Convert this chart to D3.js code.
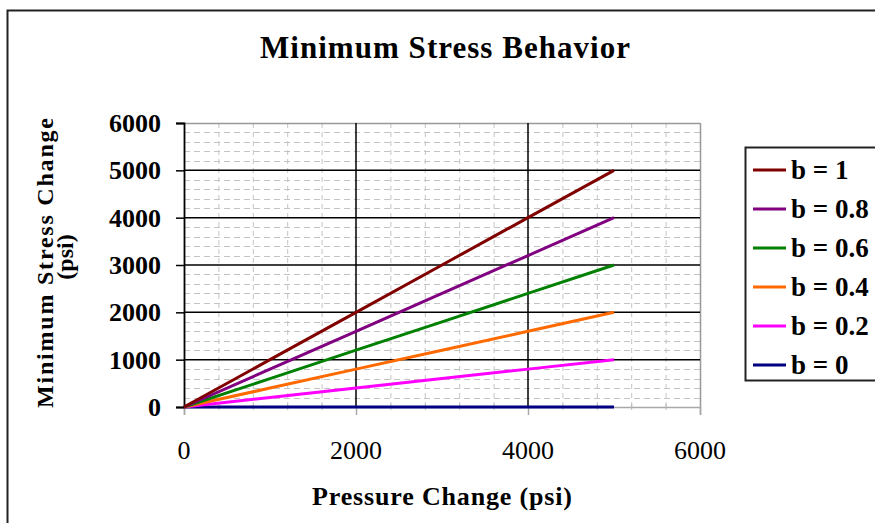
<!DOCTYPE html>
<html>
<head>
<meta charset="utf-8">
<script src="https://cdn.jsdelivr.net/npm/d3@7"></script>
<style>
  html, body { margin: 0; padding: 0; background: #fff; }
  svg { display: block; }
  text { font-family: "Liberation Serif", "Times New Roman", serif; fill: #000; }
</style>
</head>
<body>
<svg id="chart" width="875" height="523"></svg>
<script>
// Pressure change (psi) at each sample
const pressure = [0, 1000, 2000, 3000, 4000, 5000];

// Minimum stress change (psi) for each coefficient b
const seriesNames = ["b = 1", "b = 0.8", "b = 0.6", "b = 0.4", "b = 0.2", "b = 0"];
const stressB1  = [0, 1000, 2000, 3000, 4000, 5000];
const stressB08 = [0, 800, 1600, 2400, 3200, 4000];
const stressB06 = [0, 600, 1200, 1800, 2400, 3000];
const stressB04 = [0, 400, 800, 1200, 1600, 2000];
const stressB02 = [0, 200, 400, 600, 800, 1000];
const stressB0  = [0, 0, 0, 0, 0, 0];
const seriesColors = ["#800000", "#800080", "#008000", "#ff6a00", "#ff00ff", "#000080"];

const xTicks = [0, 2000, 4000, 6000];
const yTicks = [0, 1000, 2000, 3000, 4000, 5000, 6000];

const series = [stressB1, stressB08, stressB06, stressB04, stressB02, stressB0].map((vals, i) => ({
  name: seriesNames[i],
  color: seriesColors[i],
  points: pressure.map((p, j) => ({ x: p, y: vals[j] }))
}));

const svg = d3.select("#chart");

// Outer chart frame (runs off the right and bottom edges)
svg.append("rect")
  .attr("x", 7.5).attr("y", 10.5)
  .attr("width", 900).attr("height", 600)
  .attr("fill", "none").attr("stroke", "#222").attr("stroke-width", 2);

const plot = { left: 184, right: 700, top: 123, bottom: 407 };

const x = d3.scaleLinear().domain([0, 6000]).range([plot.left, plot.right]);
const y = d3.scaleLinear().domain([0, 6000]).range([plot.bottom, plot.top]);

// Minor grid (dashed grey)
const g = svg.append("g");
const minorX = d3.range(400, 6000, 400).filter(v => v % 2000 !== 0);
const minorY = d3.range(200, 6000, 200).filter(v => v % 1000 !== 0);
g.selectAll(".mx").data(minorX).join("line")
  .attr("x1", d => x(d) + 0.5).attr("x2", d => x(d) + 0.5)
  .attr("y1", plot.top).attr("y2", plot.bottom)
  .attr("stroke", "#c4c4c4").attr("stroke-width", 1).attr("stroke-dasharray", "5,4");
g.selectAll(".my").data(minorY).join("line")
  .attr("x1", plot.left).attr("x2", plot.right)
  .attr("y1", d => Math.round(y(d)) + 0.5).attr("y2", d => Math.round(y(d)) + 0.5)
  .attr("stroke", "#c4c4c4").attr("stroke-width", 1).attr("stroke-dasharray", "6,4");

// Plot border: top and right in grey
g.append("line").attr("x1", plot.left).attr("x2", plot.right)
  .attr("y1", plot.top + 0.5).attr("y2", plot.top + 0.5)
  .attr("stroke", "#999").attr("stroke-width", 1.5);
g.append("line").attr("x1", plot.right + 0.5).attr("x2", plot.right + 0.5)
  .attr("y1", plot.top).attr("y2", plot.bottom)
  .attr("stroke", "#999").attr("stroke-width", 1.5);

// Major grid (solid black)
g.selectAll(".Mx").data(xTicks.filter(v => v > 0 && v < 6000)).join("line")
  .attr("x1", d => x(d)).attr("x2", d => x(d))
  .attr("y1", plot.top).attr("y2", plot.bottom)
  .attr("stroke", "#000").attr("stroke-width", 1.5);
g.selectAll(".My").data(yTicks.filter(v => v > 0 && v < 6000)).join("line")
  .attr("x1", plot.left).attr("x2", plot.right)
  .attr("y1", d => y(d)).attr("y2", d => y(d))
  .attr("stroke", "#000").attr("stroke-width", 1.5);

// X axis (grey) with ticks below
const xAxis = svg.append("g").attr("transform", `translate(0,${plot.bottom})`)
  .call(d3.axisBottom(x).tickValues(xTicks).tickSize(8).tickFormat(""));
xAxis.select(".domain").attr("stroke", "#a8a8a8").attr("stroke-width", 1.5);
xAxis.selectAll(".tick line").attr("stroke", "#a8a8a8").attr("stroke-width", 1.5);
svg.append("g").selectAll("line").data(minorX).join("line")
  .attr("x1", d => x(d) + 0.5).attr("x2", d => x(d) + 0.5)
  .attr("y1", plot.bottom - 3).attr("y2", plot.bottom + 3)
  .attr("stroke", "#b8b8b8");

// Y axis (black) with ticks to the left
const yAxis = svg.append("g").attr("transform", `translate(${plot.left},0)`)
  .call(d3.axisLeft(y).tickValues(yTicks).tickSize(8).tickFormat(""));
yAxis.select(".domain").attr("stroke", "#000").attr("stroke-width", 1.8);
yAxis.selectAll(".tick line").attr("stroke", "#000").attr("stroke-width", 1.5);

// Tick labels
svg.append("g").selectAll("text").data(yTicks).join("text")
  .attr("x", 161).attr("y", d => y(d))
  .attr("dy", "0.35em").attr("text-anchor", "end")
  .attr("font-size", 26).attr("font-weight", "bold")
  .text(d => d);
svg.append("g").selectAll("text").data(xTicks).join("text")
  .attr("x", d => x(d)).attr("y", 459)
  .attr("text-anchor", "middle")
  .attr("font-size", 26)
  .text(d => d);

// Series lines
const line = d3.line().x(d => x(d.x)).y(d => y(d.y));
svg.append("g").selectAll("path").data(series.slice().reverse()).join("path")
  .attr("d", d => line(d.points))
  .attr("fill", "none")
  .attr("stroke", d => d.color)
  .attr("stroke-width", 3);

// Title
svg.append("text")
  .attr("x", 445).attr("y", 58)
  .attr("text-anchor", "middle")
  .attr("font-size", 31).attr("font-weight", "bold")
  .attr("textLength", 370).attr("lengthAdjust", "spacing")
  .text("Minimum Stress Behavior");

// Axis titles
svg.append("text")
  .attr("x", 442).attr("y", 505)
  .attr("text-anchor", "middle")
  .attr("font-size", 26).attr("font-weight", "bold")
  .attr("textLength", 260).attr("lengthAdjust", "spacing")
  .text("Pressure Change (psi)");

const yTitle = svg.append("g").attr("transform", "translate(0,263) rotate(-90)");
yTitle.append("text")
  .attr("x", 0).attr("y", 53)
  .attr("text-anchor", "middle")
  .attr("font-size", 24).attr("font-weight", "bold")
  .attr("textLength", 290).attr("lengthAdjust", "spacing")
  .text("Minimum Stress Change");
yTitle.append("text")
  .attr("x", 6).attr("y", 73)
  .attr("text-anchor", "middle")
  .attr("font-size", 24).attr("font-weight", "bold")
  .text("(psi)");

// Legend
const legend = svg.append("g");
legend.append("rect")
  .attr("x", 745.5).attr("y", 147.5)
  .attr("width", 160).attr("height", 233)
  .attr("fill", "#fff").attr("stroke", "#222").attr("stroke-width", 2);
const rowY = d3.scalePoint().domain(seriesNames).range([170, 365]);
const items = legend.selectAll("g.item").data(series).join("g")
  .attr("transform", d => `translate(0,${rowY(d.name)})`);
items.append("line")
  .attr("x1", 753).attr("x2", 786)
  .attr("stroke", d => d.color).attr("stroke-width", 3);
items.append("text")
  .attr("x", 791).attr("dy", "0.35em")
  .attr("font-size", 27).attr("font-weight", "bold")
  .text(d => d.name);
</script>
</body>
</html>
